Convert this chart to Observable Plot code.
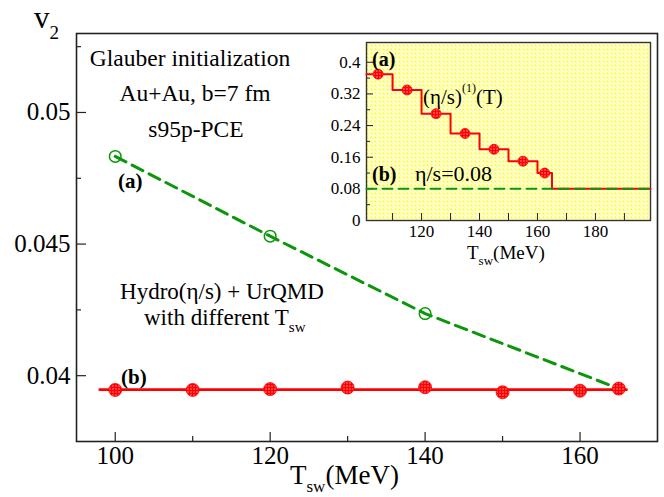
<!DOCTYPE html>
<html><head><meta charset="utf-8">
<script src="https://cdn.jsdelivr.net/npm/d3@7"></script>
<script src="https://cdn.jsdelivr.net/npm/@observablehq/plot@0.6"></script>
<style>
body{margin:0;background:#fff}
#wrap{position:relative;width:664px;height:497px;overflow:hidden;background:#fff}
#main{position:absolute;left:0;top:0;width:664px;height:497px}
#inset{position:absolute;left:330px;top:36px;width:324px;height:227px}
</style></head><body>
<svg width="0" height="0" style="position:absolute">
<defs>
<pattern id="ydots" patternUnits="userSpaceOnUse" width="4" height="4">
<rect width="4" height="4" fill="#ffffff"/>
<rect x="0" y="0" width="2" height="2" fill="#ffff00"/>
<rect x="2" y="2" width="1" height="1" fill="#ffff00"/>
</pattern>
<pattern id="rdots" patternUnits="userSpaceOnUse" width="3" height="3">
<rect width="3" height="3" fill="#ff0000"/>
<rect x="1" y="1" width="1" height="1" fill="#ffffff"/>
</pattern>
</defs></svg>
<div id="wrap"><div id="main"></div><div id="inset"></div></div>
<script>
// ---- main chart data ----
const tsw = [100, 110, 120, 130, 140, 150, 160, 165];
const v2b = [0.03946, 0.03946, 0.03949, 0.03955, 0.03956, 0.03937, 0.03943, 0.03951];
const lineBT = [98, 166];
const lineBV = [0.03947, 0.03947];
const tswA = [100, 120, 140, 165];
const v2a = [0.04833, 0.0453, 0.04236, 0.03951];
const circA = [100, 120, 140];
const xTicks = [100, 120, 140, 160];
const xMinor = [110, 130, 150];
const yTicks = [0.04, 0.045, 0.05];
const yTickLabels = ["0.04", "0.045", "0.05"];
const yMinor = [0.0425, 0.0475, 0.0525];

// ---- inset data ----
const stepT = [101, 110, 120, 130, 140, 150, 160, 165, 199];
const stepV = [0.37, 0.33, 0.27, 0.22, 0.18, 0.15, 0.12, 0.08, 0.08];
const ptT = [105, 115, 125, 135, 145, 155, 162.5];
const ptV = [0.37, 0.33, 0.27, 0.22, 0.18, 0.15, 0.12];
const constT = [101, 199];
const constV = [0.08, 0.08];
const ixTicks = [120, 140, 160, 180];
const ixMinor = [110, 130, 150, 170, 190];
const iyTicks = [0, 0.08, 0.16, 0.24, 0.32, 0.4];
const iyTickLabels = ["0", "0.08", "0.16", "0.24", "0.32", "0.4"];
const iyMinor = [0.04, 0.12, 0.2, 0.28, 0.36];

const GREEN = "#0b960b", RED = "#ff0000", FONT = '"Liberation Serif", "Times New Roman", serif';
const zip = (a, b) => a.map((x, i) => ({x, y: b[i]}));
const ylab = new Map(yTicks.map((d, i) => [d, yTickLabels[i]]));
const iylab = new Map(iyTicks.map((d, i) => [d, iyTickLabels[i]]));

// main frame geometry
const W = 664, H = 497, mL = 76, mR = 7, mT = 33, mB = 56;
const fw = W - mL - mR, fh = H - mT - mB;

const main = Plot.plot({
  width: W, height: H, marginLeft: mL, marginRight: mR, marginTop: mT, marginBottom: mB,
  style: {fontFamily: FONT, background: "#fff", color: "#000", overflow: "visible"},
  x: {domain: [95, 170]},
  y: {domain: [0.0375, 0.053]},
  marks: [
    Plot.axisX(xTicks, {tickSize: 0, tickPadding: 5, fontSize: 25, label: null, tickFormat: d => String(d)}),
    Plot.axisY(yTicks, {tickSize: 0, tickPadding: 6, fontSize: 25, label: null, tickFormat: d => ylab.get(d)}),
    Plot.ruleX(xTicks, {x: d => d, insetTop: fh - 9, stroke: "#222", strokeWidth: 1.2}),
    Plot.ruleX(xMinor, {x: d => d, insetTop: fh - 5, stroke: "#222", strokeWidth: 1.2}),
    Plot.ruleY(yTicks, {y: d => d, insetRight: fw - 10, stroke: "#222", strokeWidth: 1.2}),
    Plot.ruleY(yMinor, {y: d => d, insetRight: fw - 5, stroke: "#222", strokeWidth: 1.2}),
    Plot.frame({stroke: "#222", strokeWidth: 1.6}),
    Plot.line(zip(lineBT, lineBV), {x: "x", y: "y", stroke: RED, strokeWidth: 2.6}),
    Plot.line(zip(tswA, v2a), {x: "x", y: "y", stroke: GREEN, strokeWidth: 3, strokeDasharray: "12,7"}),
    Plot.dot(circA.map(t => ({x: t, y: v2a[tswA.indexOf(t)]})), {x: "x", y: "y", r: 5.8, stroke: GREEN, strokeWidth: 1.5, fill: "none"}),
    Plot.dot(zip(tsw, v2b), {x: "x", y: "y", r: 6.5, fill: "url(#rdots)", stroke: RED, strokeWidth: 0.8})
  ]
});
document.getElementById("main").appendChild(main);

function addText(svg, x, y, parts, opts = {}) {
  const t = d3.select(svg).append("text")
    .attr("x", x).attr("y", y)
    .attr("font-family", FONT)
    .attr("font-size", opts.size || 23)
    .attr("font-weight", opts.bold ? "bold" : null)
    .attr("text-anchor", opts.anchor || "start")
    .attr("fill", "#000");
  for (const p of parts) {
    if (typeof p === "string") t.append("tspan").text(p);
    else t.append("tspan").attr("dy", p.dy || 0).attr("font-size", p.size || null).text(p.t);
  }
  return t;
}

// main annotations
addText(main, 34, 28, ["v", {t: "2", dy: 11, size: 19}], {size: 31});
addText(main, 190, 66, ["Glauber initialization"], {size: 23.5, anchor: "middle"});
addText(main, 195, 101, ["Au+Au, b=7 fm"], {size: 23.5, anchor: "middle"});
addText(main, 196, 137, ["s95p-PCE"], {size: 23.5, anchor: "middle"});
addText(main, 118, 188, ["(a)"], {size: 21, bold: true});
addText(main, 222, 299, ["Hydro(η/s) + UrQMD"], {size: 23, anchor: "middle"});
addText(main, 144, 325, ["with different T", {t: "sw", dy: 7, size: 15}], {size: 23});
addText(main, 121, 384, ["(b)"], {size: 21, bold: true});
addText(main, 290, 484, ["T", {t: "sw", dy: 8, size: 17}, {t: "(MeV)", dy: -8}], {size: 27});

// ---- inset ----
const IW = 324, IH = 227, iL = 36, iR = 4, iT = 6, iB = 43;
const ifw = IW - iL - iR, ifh = IH - iT - iB;
const inset = Plot.plot({
  width: IW, height: IH, marginLeft: iL, marginRight: iR, marginTop: iT, marginBottom: iB,
  style: {fontFamily: FONT, background: "transparent", color: "#000", overflow: "visible"},
  x: {domain: [101, 199]},
  y: {domain: [0, 0.45]},
  marks: [
    Plot.frame({fill: "url(#ydots)", stroke: "none"}),
    Plot.axisX(ixTicks, {tickSize: 0, tickPadding: 4, fontSize: 17, label: null, tickFormat: d => String(d)}),
    Plot.axisY(iyTicks, {tickSize: 0, tickPadding: 6, fontSize: 17, label: null, tickFormat: d => iylab.get(d)}),
    Plot.ruleX(ixTicks, {x: d => d, insetTop: ifh - 7, stroke: "#222", strokeWidth: 1}),
    Plot.ruleX(ixMinor, {x: d => d, insetTop: ifh - 7, stroke: "#222", strokeWidth: 1}),
    Plot.ruleY(iyTicks, {y: d => d, insetRight: ifw - 7, stroke: "#222", strokeWidth: 1}),
    Plot.ruleY(iyMinor, {y: d => d, insetRight: ifw - 4, stroke: "#222", strokeWidth: 1}),
    Plot.frame({stroke: "#333", strokeWidth: 1.4}),
    Plot.line(zip(stepT, stepV), {x: "x", y: "y", curve: "step-after", stroke: RED, strokeWidth: 2}),
    Plot.line(zip(constT, constV), {x: "x", y: "y", stroke: GREEN, strokeWidth: 2, strokeDasharray: "10,6"}),
    Plot.dot(zip(ptT, ptV), {x: "x", y: "y", r: 5, fill: "url(#rdots)", stroke: RED, strokeWidth: 0.8})
  ]
});
document.getElementById("inset").appendChild(inset);
addText(inset, 42, 30, ["(a)"], {size: 20, bold: true});
addText(inset, 93, 68, ["(η/s)", {t: "(1)", dy: -12, size: 12}, {t: "(T)", dy: 12}], {size: 21});
addText(inset, 42, 145, ["(b)"], {size: 20, bold: true});
addText(inset, 85, 145, ["η/s=0.08"], {size: 22});
addText(inset, 137, 223, ["T", {t: "sw", dy: 6, size: 13}, {t: "(MeV)", dy: -6}], {size: 19});
</script>
</body></html>
